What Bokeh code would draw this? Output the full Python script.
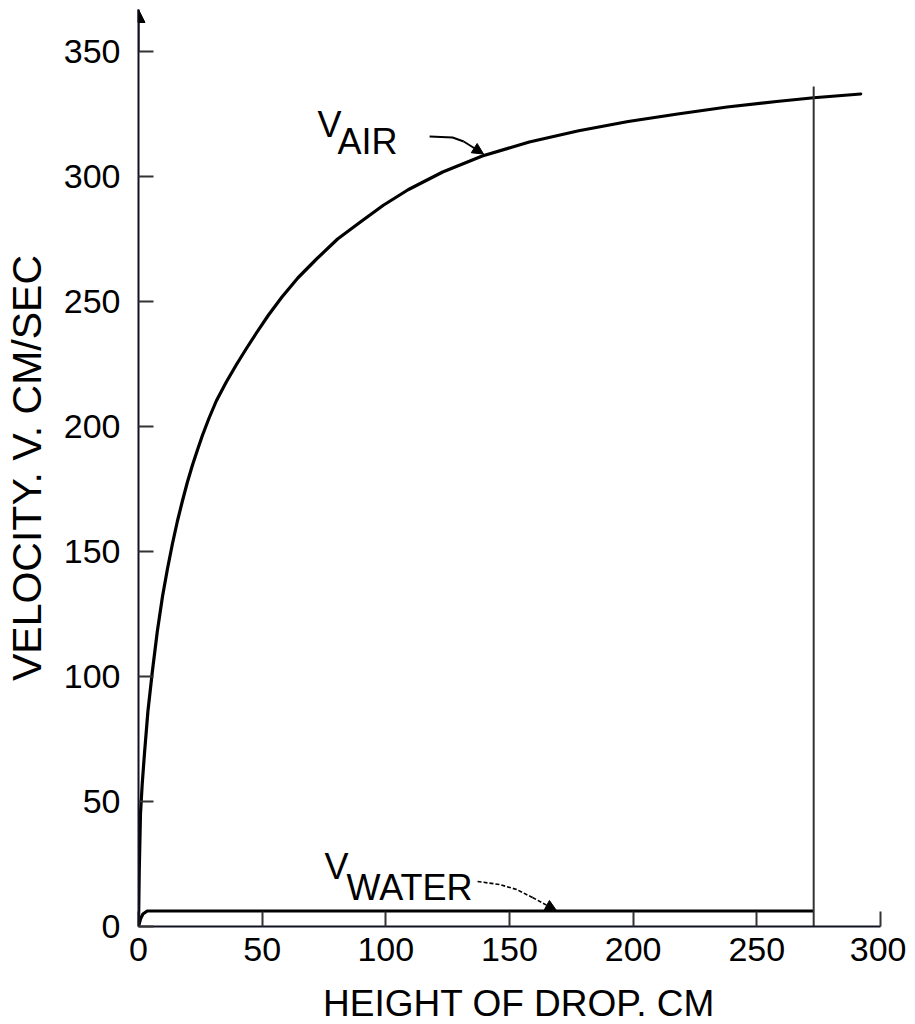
from bokeh.plotting import figure
from bokeh.models import Range1d, FixedTicker, Label, Arrow, NormalHead
from bokeh.embed import file_html
from bokeh.resources import INLINE

# ---- data ----
air_x = [0, 0.3, 0.8, 1.5, 2.4, 3.8, 5.6, 7.6, 9.7, 11.7, 13.7, 15.7, 17.7, 19.7, 21.8, 23.8,
         25.8, 28.5, 31.5, 35.5, 39.5, 43.5, 47.6, 52.5, 58, 64.5, 72, 80.5, 90, 99, 109, 123,
         139, 158, 178, 198, 218, 238, 258, 273, 292]
air_y = [0, 22, 45, 57, 69, 86, 102, 118, 132, 143, 153, 162, 170, 177.5, 184.5, 190.5,
         196.3, 203.3, 210.3, 217.8, 224.6, 231, 237.3, 244.5, 251.8, 259.5, 267, 275, 282, 288.5, 294.7, 301.8,
         308.2, 313.8, 318.3, 322, 325, 327.8, 330, 331.5, 333]

water_x = [0, 0.8, 1.8, 3.5, 273]
water_y = [0, 3, 5, 6.2, 6.2]

marker_x = [273]
marker_bottom = [0]
marker_top = [336]

x_ticks = [0, 50, 100, 150, 200, 250, 300]
y_ticks = [0, 50, 100, 150, 200, 250, 300, 350]

# annotation leader paths (label -> curve)
air_lead_x = [117.7, 127.0, 131.5]
air_lead_y = [316.0, 315.6, 314.0]
air_head = (131.5, 314.0, 139.5, 309.0)

water_lead_x = [137.1, 146.0, 152.9, 159.3]
water_lead_y = [18.0, 16.8, 14.8, 11.6]
water_head = (159.3, 11.6, 169.0, 6.4)

FONT = "Liberation Sans"

p = figure(
    frame_width=761, frame_height=917,
    min_border_left=133, min_border_right=7, min_border_top=9, min_border_bottom=91,
    x_range=Range1d(0, 307.7), y_range=Range1d(0, 366.8),
    output_backend="svg", toolbar_location=None,
)
p.outline_line_color = None
p.grid.visible = False
p.background_fill_color = "white"
p.border_fill_color = "white"

for ax in (p.xaxis[0], p.yaxis[0]):
    ax.axis_line_color = "#111122"
    ax.axis_line_width = 2
    ax.major_tick_line_color = "#333333"
    ax.major_tick_line_width = 2
    ax.major_tick_in = 15
    ax.major_tick_out = 0
    ax.minor_tick_line_color = None
    ax.major_label_text_font = FONT
    ax.major_label_text_font_size = "34px"
    ax.major_label_text_color = "black"
    ax.axis_label_text_font = FONT
    ax.axis_label_text_font_style = "normal"
    ax.axis_label_text_color = "black"

p.xaxis.axis_label_text_font_size = "37px"
p.yaxis.axis_label_text_font_size = "41px"
p.xaxis.ticker = FixedTicker(ticks=x_ticks)
p.yaxis.ticker = FixedTicker(ticks=y_ticks)
p.xaxis.bounds = (0, 300)
p.yaxis.bounds = (0, 366.8)
p.xaxis.axis_label = "HEIGHT OF DROP. CM"
p.yaxis.axis_label = "VELOCITY. V. CM/SEC"
p.xaxis.major_label_standoff = 11
p.yaxis.major_label_standoff = 18
p.xaxis.axis_label_standoff = 19
p.yaxis.axis_label_standoff = 11

# curves
p.line(air_x, air_y, line_color="black", line_width=3.2, line_join="round", line_cap="round")
p.line(water_x, water_y, line_color="black", line_width=3.2, line_join="round")
p.segment(x0=marker_x, y0=marker_bottom, x1=marker_x, y1=marker_top, line_color="#333333", line_width=2)

# y axis arrow head
p.add_layout(Arrow(x_start=0, y_start=350, x_end=0, y_end=366.8,
                   line_color="#111122", line_width=2,
                   end=NormalHead(size=13, fill_color="black", line_color="black")))

def lab(x, y, t):
    p.add_layout(Label(x=x, y=y, text=t, text_font=FONT, text_font_size="36px",
                       text_color="black", text_baseline="alphabetic", text_align="left"))

lab(72.4, 320.8, "V")
lab(80.5, 314.0, "AIR")
lab(75.2, 24.0, "V")
lab(84.1, 15.6, "WATER")

# leader arrows
p.line(air_lead_x, air_lead_y, line_color="black", line_width=2, line_join="round")
p.add_layout(Arrow(x_start=air_head[0], y_start=air_head[1], x_end=air_head[2], y_end=air_head[3],
                   line_color="black", line_width=2,
                   end=NormalHead(size=11, fill_color="black", line_color="black")))
p.line(water_lead_x, water_lead_y, line_color="black", line_width=1.6, line_dash="4 2")
p.add_layout(Arrow(x_start=water_head[0], y_start=water_head[1], x_end=water_head[2], y_end=water_head[3],
                   line_color="black", line_width=1.6, line_dash="4 2",
                   end=NormalHead(size=11, fill_color="black", line_color="black", line_dash="solid")))

open("out.html", "w").write(file_html(p, INLINE))
